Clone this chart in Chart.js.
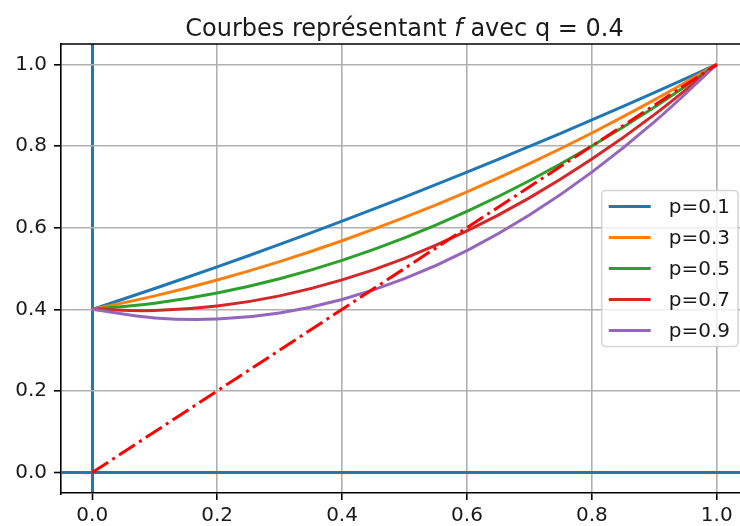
<!DOCTYPE html>
<html>
<head>
<meta charset="utf-8">
<script src="https://cdn.jsdelivr.net/npm/chart.js@4"></script>
<style>
  html, body { margin: 0; padding: 0; background: #fff; overflow: hidden; }
  .zone { width: 740px; height: 526px; overflow: hidden; }
</style>
</head>
<body>
<div class="zone"><canvas id="grafica" width="750" height="526"></canvas></div>
<script>
// valeurs (s de 0 a 1, pas de 0.1)
const valeursS = [0, 0.1, 0.2, 0.3, 0.4, 0.5, 0.6, 0.7, 0.8, 0.9, 1];
const courbeP01 = [0.4, 0.451, 0.504, 0.559, 0.616, 0.675, 0.736, 0.799, 0.864, 0.931, 1];
const courbeP03 = [0.4, 0.433, 0.472, 0.517, 0.568, 0.625, 0.688, 0.757, 0.832, 0.913, 1];
const courbeP05 = [0.4, 0.415, 0.44, 0.475, 0.52, 0.575, 0.64, 0.715, 0.8, 0.895, 1];
const courbeP07 = [0.4, 0.397, 0.408, 0.433, 0.472, 0.525, 0.592, 0.673, 0.768, 0.877, 1];
const courbeP09 = [0.4, 0.379, 0.376, 0.391, 0.424, 0.475, 0.544, 0.631, 0.736, 0.859, 1];
const diagonaleX = [0, 1];
const diagonaleY = [0, 1];
const etiquettes = ["p=0.1", "p=0.3", "p=0.5", "p=0.7", "p=0.9"];
const ticksX = [0, 0.2, 0.4, 0.6, 0.8, 1.0];
const ticksY = [0, 0.2, 0.4, 0.6, 0.8, 1.0];

const couleurs = ["#1f77b4", "#ff7f0e", "#2ca02c", "#d62728", "#9467bd"];
const police = "DejaVu Sans";

const enPoints = (xs, ys) => xs.map((x, i) => ({x: x, y: ys[i]}));

const series = [courbeP01, courbeP03, courbeP05, courbeP07, courbeP09];
const datasets = series.map((ys, i) => ({
    label: etiquettes[i],
    data: enPoints(valeursS, ys),
    borderColor: couleurs[i],
    backgroundColor: couleurs[i],
    borderWidth: 3,
    pointRadius: 0,
    tension: 0.4,
    order: 5 - i
}));
datasets.push({
    label: "diagonale",
    data: enPoints(diagonaleX, diagonaleY),
    borderColor: "#ff0000",
    borderWidth: 3,
    borderDash: [19, 5, 3, 5],
    pointRadius: 0,
    order: 0
});

// titre avec le f en italique
const titre = {
    id: "titre",
    afterDraw(chart) {
        const ctx = chart.ctx;
        const a = chart.chartArea;
        const morceaux = [
            ["Courbes représentant ", "normal"],
            ["f", "italic"],
            [" avec q = 0.4", "normal"]
        ];
        ctx.save();
        ctx.fillStyle = "#1a1a1a";
        ctx.textBaseline = "alphabetic";
        let total = 0;
        morceaux.forEach(m => {
            ctx.font = m[1] + " 24px '" + police + "'";
            total += ctx.measureText(m[0]).width;
        });
        let x = (a.left + a.right) / 2 - total / 2;
        morceaux.forEach(m => {
            ctx.font = m[1] + " 24px '" + police + "'";
            ctx.fillText(m[0], x, 36);
            x += ctx.measureText(m[0]).width;
        });
        ctx.restore();
    }
};

// cadre du haut et de droite + legende facon matplotlib
const cadreLegende = {
    id: "cadreLegende",
    afterDraw(chart) {
        const ctx = chart.ctx;
        const a = chart.chartArea;
        ctx.save();
        ctx.strokeStyle = "#000";
        ctx.lineWidth = 1.6;
        ctx.beginPath();
        ctx.moveTo(a.left, a.top);
        ctx.lineTo(a.right, a.top);
        ctx.lineTo(a.right, a.bottom);
        ctx.stroke();

        ctx.font = "20px '" + police + "'";
        let largeurTexte = 0;
        etiquettes.forEach(t => { largeurTexte = Math.max(largeurTexte, ctx.measureText(t).width); });
        const w = 67 + largeurTexte + 8;
        const h = 156;
        const right = a.right - 10;
        const left = right - w;
        const top = (a.top + a.bottom) / 2 - h / 2;
        ctx.beginPath();
        ctx.roundRect(left, top, w, h, 4);
        ctx.fillStyle = "rgba(255,255,255,0.8)";
        ctx.fill();
        ctx.strokeStyle = "rgba(204,204,204,0.8)";
        ctx.lineWidth = 1.6;
        ctx.stroke();

        ctx.textBaseline = "middle";
        chart.data.datasets.slice(0, etiquettes.length).forEach((ds, i) => {
            const y = top + 16 + i * 31;
            ctx.strokeStyle = ds.borderColor;
            ctx.lineWidth = 3;
            ctx.beginPath();
            ctx.moveTo(left + 7, y);
            ctx.lineTo(left + 49, y);
            ctx.stroke();
            ctx.fillStyle = "#1a1a1a";
            ctx.fillText(ds.label, left + 67, y + 1);
        });
        ctx.restore();
    }
};

const couleurGrille = c => (c.tick && c.tick.value === 0) ? "#1f77b4" : "#b0b0b0";
const epaisseurGrille = c => (c.tick && c.tick.value === 0) ? 3 : 1.6;

new Chart(document.getElementById("grafica"), {
    type: "line",
    data: { datasets: datasets },
    options: {
        responsive: false,
        animation: false,
        layout: { padding: { top: 44, right: 2, bottom: 0, left: 0 } },
        plugins: { legend: { display: false }, tooltip: { enabled: false } },
        scales: {
            x: {
                type: "linear",
                min: -0.05,
                max: 1.05,
                afterBuildTicks: s => { s.ticks = ticksX.map(v => ({value: v})); },
                afterFit: s => { s.height = 33; },
                ticks: {
                    callback: v => v.toFixed(1),
                    color: "#1a1a1a",
                    padding: 4,
                    maxRotation: 0,
                    font: { family: police, size: 20 }
                },
                grid: {
                    color: couleurGrille,
                    lineWidth: epaisseurGrille,
                    tickColor: "#000",
                    tickWidth: 1.6,
                    tickLength: 7
                },
                border: { color: "#000", width: 1.6 }
            },
            y: {
                type: "linear",
                min: -0.05,
                max: 1.05,
                afterBuildTicks: s => { s.ticks = ticksY.map(v => ({value: v})); },
                afterFit: s => { s.width = 61; },
                ticks: {
                    callback: v => v.toFixed(1),
                    color: "#1a1a1a",
                    padding: 7,
                    font: { family: police, size: 20 }
                },
                grid: {
                    color: couleurGrille,
                    lineWidth: epaisseurGrille,
                    tickColor: "#000",
                    tickWidth: 1.6,
                    tickLength: 7
                },
                border: { color: "#000", width: 1.6 }
            }
        }
    },
    plugins: [titre, cadreLegende]
});
</script>
</body>
</html>
